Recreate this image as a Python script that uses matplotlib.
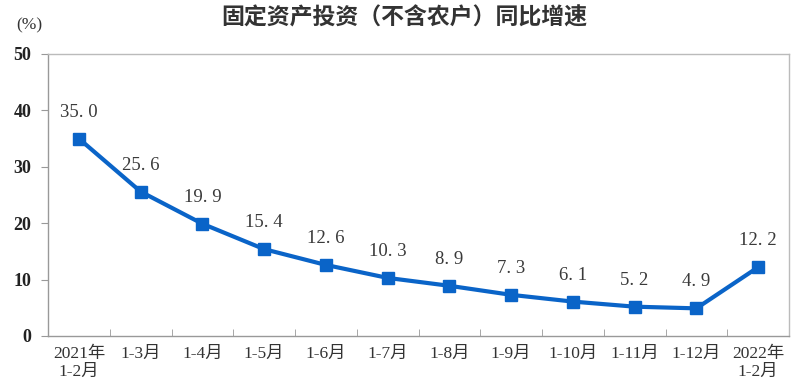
import matplotlib
matplotlib.use("Agg")
import matplotlib.pyplot as plt

categories = ["2021年\n1-2月", "1-3月", "1-4月", "1-5月", "1-6月", "1-7月", "1-8月",
              "1-9月", "1-10月", "1-11月", "1-12月", "2022年\n1-2月"]
values = [35.0, 25.6, 19.9, 15.4, 12.6, 10.3, 8.9, 7.3, 6.1, 5.2, 4.9, 12.2]
yticks = [0, 10, 20, 30, 40, 50]

serif = ['Liberation Serif', 'Noto Sans CJK SC']
plt.rcParams['font.family'] = serif

fig = plt.figure(figsize=(7.96, 3.90), dpi=100)
ax = fig.add_axes([48/796, 1-336/390, (789-48)/796, (336-54)/390])

x = list(range(len(values)))
color = '#0A64C8'
ax.plot(x, values, color=color, lw=3, marker='s', ms=8.5, zorder=3)
for xi, v in zip(x, values):
    ax.annotate(f"{v:.1f}".replace('.', '. '), (xi, v), xytext=(0, 13), textcoords='offset points',
                ha='center', va='bottom', fontsize=13.5, color='#3a3a3a', family=serif)

ax.set_xlim(-0.5, len(values) - 0.5)
ax.set_ylim(0, 50)
ax.set_yticks(yticks)
ax.set_yticklabels([str(t) for t in yticks], fontsize=13, fontweight='bold', color='#222222')
ax.set_xticks(x)
ax.set_xticklabels(categories, fontsize=12.5, color='#333333', linespacing=1.2)
ax.tick_params(axis='x', length=0, pad=7)
ax.set_xticks([i + 0.5 for i in range(len(values) - 1)], minor=True)
ax.tick_params(axis='x', which='minor', direction='in', length=5, color='#999999')
ax.tick_params(axis='y', direction='out', length=5, color='#999999', pad=7)
for s in ax.spines.values():
    s.set_color('#BBBBBB')
    s.set_linewidth(1.0)
ax.spines['left'].set_color('#999999')
ax.spines['bottom'].set_color('#999999')

fig.text(404/796, 1-18/390, "固定资产投资（不含农户）同比增速", ha='center', va='center',
         fontsize=16.5, fontweight='bold', family=['Noto Sans CJK SC', 'DejaVu Sans'], color='#333333')
fig.text(29/796, 1-25/390, "(%)", ha='center', va='center', fontsize=12.5, color='#333333',
         family=serif)

fig.savefig("out.png", dpi=100)
